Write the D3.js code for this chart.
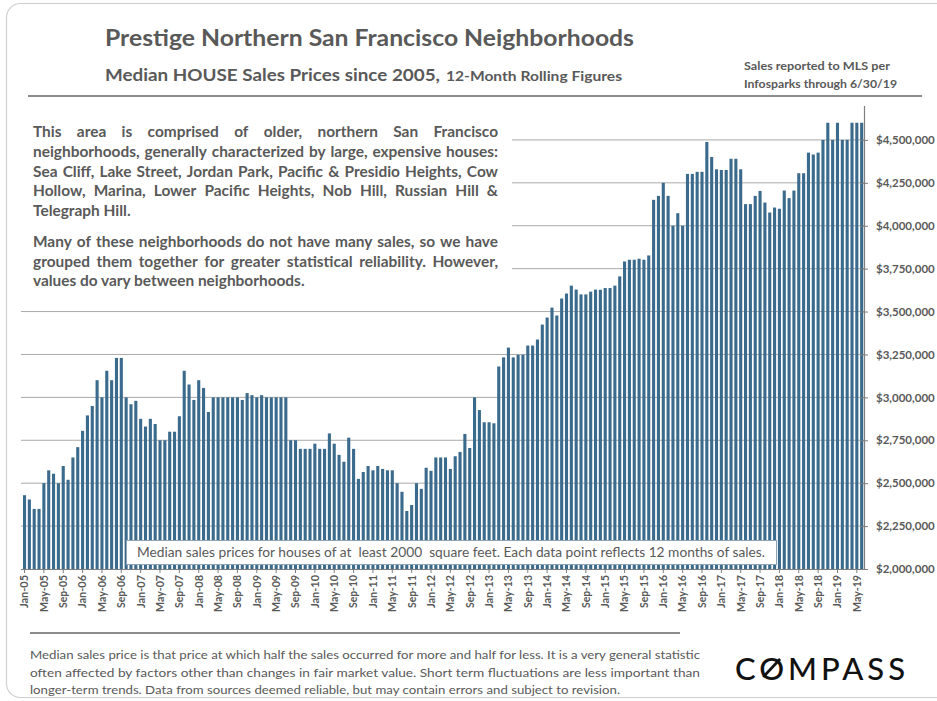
<!DOCTYPE html>
<html><head><meta charset="utf-8">
<script src="https://cdn.jsdelivr.net/npm/d3@7"></script>
<style>
body{margin:0;background:#fff}
svg{display:block}
text{font-family:Lato,'Open Sans',sans-serif}
</style>
</head><body>
<svg id="chart" width="937" height="701"></svg>
<script>
// ---------- DATA ----------
const monthNames = ["Jan","Feb","Mar","Apr","May","Jun","Jul","Aug","Sep","Oct","Nov","Dec"];
const yearLabels = ["05","06","07","08","09","10","11","12","13","14","15","16","17","18","19"];
const categories = [];
yearLabels.forEach(y => monthNames.forEach(m => categories.push(m + "-" + y)));
categories.length = 174; // Jan-05 .. Jun-19

// Median house sale price, 12-month rolling, in $ thousands
const medianPriceK = [
  2430,2405,2350,2350,2500,2575,2555,2500,2600,2520,2650,2710,   // 2005
  2805,2895,2950,3100,3000,3155,3100,3230,3230,3000,2960,2980,   // 2006
  2875,2830,2875,2845,2750,2750,2800,2800,2890,3155,3075,2985,   // 2007
  3100,3055,2915,3000,3000,3000,3000,3000,3000,2985,3025,3013,   // 2008
  3000,3013,3000,3000,3000,3000,3000,2750,2750,2700,2700,2700,   // 2009
  2730,2700,2700,2790,2730,2665,2625,2765,2700,2525,2565,2600,   // 2010
  2575,2600,2583,2575,2575,2500,2450,2338,2373,2500,2467,2590,   // 2011
  2572,2650,2650,2650,2583,2657,2682,2787,2705,3000,2926,2855,   // 2012
  2855,2849,3180,3233,3290,3233,3248,3248,3302,3302,3337,3424,   // 2013
  3465,3523,3477,3576,3605,3651,3628,3600,3600,3616,3628,3627,   // 2014
  3637,3637,3651,3705,3792,3802,3802,3808,3802,3827,4151,4174,   // 2015
  4250,4174,4000,4073,4000,4302,4302,4314,4314,4488,4401,4329,   // 2016
  4325,4325,4390,4390,4329,4126,4126,4174,4203,4135,4077,4106,   // 2017
  4099,4205,4161,4205,4306,4306,4426,4415,4426,4500,4600,4500,   // 2018
  4600,4500,4500,4600,4600,4600                                  // 2019
];

const yTickValues = [2000000,2250000,2500000,2750000,3000000,3250000,3500000,3750000,4000000,4250000,4500000];
const xTickLabels = categories.filter((d, i) => i % 4 === 0);

const titleText = "Prestige Northern San Francisco Neighborhoods";
const subtitleMain = "Median HOUSE Sales Prices since 2005,";
const subtitleSmall = "12-Month Rolling Figures";
const sourceLines = ["Sales reported to MLS per", "Infosparks through 6/30/19"];
const para1 = [
  "This area is comprised of older, northern San Francisco",
  "neighborhoods, generally characterized by large, expensive houses:",
  "Sea Cliff, Lake Street, Jordan Park, Pacific & Presidio Heights, Cow",
  "Hollow, Marina, Lower Pacific Heights, Nob Hill, Russian Hill &",
  "Telegraph Hill."
];
const para2 = [
  "Many of these neighborhoods do not have many sales, so we have",
  "grouped them together for greater statistical reliability. However,",
  "values do vary between neighborhoods."
];
const boxNote = "Median sales prices for houses of at  least 2000  square feet. Each data point reflects 12 months of sales.";
const footLines = [
  "Median sales price is that price at which half the sales occurred for more and half for less. It is a very general statistic",
  "often affected by factors other than changes in fair market value. Short term fluctuations are less important than",
  "longer-term trends. Data from sources deemed reliable, but may contain errors and subject to revision."
];
const brand = "COMPASS";

// ---------- DRAW ----------
const TXT = "#595959";
const BAR = "#3b6b8c";
const svg = d3.select("#chart");

// outer rounded frame
svg.append("rect").attr("x", 6.5).attr("y", 3.5).attr("width", 960).attr("height", 694)
  .attr("rx", 14).attr("fill", "none").attr("stroke", "#cfcfcf").attr("stroke-width", 1.2);

// header
svg.append("text").attr("x", 105).attr("y", 46).attr("font-size", 23).attr("font-weight", 700)
  .attr("fill", TXT).attr("textLength", 529).attr("lengthAdjust", "spacingAndGlyphs").text(titleText);
svg.append("text").attr("x", 105).attr("y", 81).attr("fill", TXT).attr("font-weight", 700)
  .attr("font-size", 17.5).attr("textLength", 335).attr("lengthAdjust", "spacingAndGlyphs").text(subtitleMain);
svg.append("text").attr("x", 446).attr("y", 81).attr("fill", TXT).attr("font-weight", 700)
  .attr("font-size", 12.5).attr("textLength", 176).attr("lengthAdjust", "spacingAndGlyphs").text(subtitleSmall);
const srcLen = [146, 153];
sourceLines.forEach((s, i) => svg.append("text").attr("x", 744).attr("y", 70 + i * 18)
  .attr("font-size", 11.5).attr("font-weight", 700).attr("fill", TXT)
  .attr("textLength", srcLen[i]).attr("lengthAdjust", "spacingAndGlyphs").text(s));
svg.append("line").attr("x1", 28).attr("x2", 922).attr("y1", 96).attr("y2", 96)
  .attr("stroke", "#8c8c8c").attr("stroke-width", 2);

// scales
const x = d3.scaleBand().domain(categories).range([22.1, 864.1]).paddingInner(0.36).paddingOuter(0.18);
const y = d3.scaleLinear().domain([2000000, 4700000]).range([569, 105.6]);

// gridlines
svg.append("g").selectAll("line").data(yTickValues.slice(1)).join("line")
  .attr("x1", 21).attr("x2", 864).attr("y1", d => y(d)).attr("y2", d => y(d))
  .attr("stroke", "#a9a9a9").attr("stroke-width", 1);

// text block background (covers gridlines)
svg.append("rect").attr("x", 20).attr("y", 112).attr("width", 492).attr("height", 184).attr("fill", "#fff");

// bars
svg.append("g").selectAll("rect").data(medianPriceK).join("rect")
  .attr("x", (d, i) => x(categories[i]))
  .attr("width", x.bandwidth())
  .attr("y", d => y(d * 1000))
  .attr("height", d => y(2000000) - y(d * 1000))
  .attr("fill", BAR);

// right y axis
const yAxis = d3.axisRight(y).tickValues(yTickValues).tickSize(0).tickPadding(12)
  .tickFormat(d => "$" + d3.format(",")(d));
const ya = svg.append("g").attr("transform", "translate(864,0)").call(yAxis);
ya.select(".domain").attr("stroke", "#7f7f7f").attr("stroke-width", 1.2);
ya.selectAll("text").attr("font-size", 11.5).attr("font-weight", 700).attr("fill", TXT)
  .attr("font-family", "Lato, 'Open Sans', sans-serif");
ya.selectAll(".tick").append("line").attr("x1", -4).attr("x2", 4).attr("stroke", "#7f7f7f");

// bottom x axis
const xAxis = d3.axisBottom(x).tickValues(xTickLabels).tickSize(4).tickPadding(5);
const xa = svg.append("g").attr("transform", "translate(0,569)").call(xAxis);
xa.select(".domain").attr("stroke", "#7f7f7f").attr("d", "M21,0.5H864");
xa.selectAll(".tick line").attr("stroke", "#7f7f7f");
xa.selectAll("text").attr("font-size", 11).attr("font-weight", 700).attr("fill", TXT)
  .attr("font-family", "Lato, 'Open Sans', sans-serif")
  .attr("transform", "rotate(-90)").attr("text-anchor", "end")
  .attr("x", -6).attr("y", 0).attr("dy", "0.35em")
  .attr("textLength", d => d.startsWith("May") ? 37 : 33).attr("lengthAdjust", "spacingAndGlyphs");

// annotation box over bars
svg.append("rect").attr("x", 126.5).attr("y", 540.5).attr("width", 650).attr("height", 24)
  .attr("fill", "#fff").attr("stroke", "#8fa5b6").attr("stroke-width", 1);
svg.append("text").attr("x", 451).attr("y", 557).attr("text-anchor", "middle")
  .attr("font-size", 13.5).attr("fill", TXT).attr("xml:space", "preserve")
  .attr("textLength", 628).attr("lengthAdjust", "spacingAndGlyphs").text(boxNote);

// justified paragraph: font size fitted so the longest line reads at natural spacing
function measure(str, fs) {
  const t = svg.append("text").attr("font-size", fs).attr("font-weight", 700).text(str);
  const w = t.node().getComputedTextLength();
  t.remove();
  return w;
}
const paraFs = 10 * 458 / measure(para1[1], 10);
const spaceW = measure("a a", paraFs) - measure("aa", paraFs);
function paragraph(lines, y0, lh) {
  const x0 = 33, x1 = 498;
  lines.forEach((ln, li) => {
    const t = svg.append("text").attr("y", y0 + li * lh).attr("font-size", paraFs)
      .attr("font-weight", 700).attr("fill", TXT);
    const words = ln.split(" ");
    if (li === lines.length - 1) { t.attr("x", x0).text(ln); return; }
    const widths = words.map(w => measure(w, paraFs));
    const gap = Math.max(spaceW * 0.6, (x1 - x0 - d3.sum(widths)) / (words.length - 1));
    let cx = x0;
    words.forEach((w, i) => {
      t.append("tspan").attr("x", cx).text(w + (i < words.length - 1 ? " " : ""));
      cx += widths[i] + gap;
    });
  });
}
paragraph(para1, 137, 19.8);
paragraph(para2, 247, 19.5);

// bottom rule and footnote
svg.append("line").attr("x1", 30).attr("x2", 680).attr("y1", 633).attr("y2", 633)
  .attr("stroke", "#8c8c8c").attr("stroke-width", 2);
const footLen = [670, 670, 590];
footLines.forEach((s, i) => svg.append("text").attr("x", 30).attr("y", 659 + i * 17.5)
  .attr("font-size", 12).attr("fill", TXT).attr("textLength", footLen[i])
  .attr("lengthAdjust", "spacingAndGlyphs").text(s));

// brand
const b = svg.append("text").attr("x", 735).attr("y", 680).attr("font-size", 31)
  .attr("font-family", "Roboto, Lato, sans-serif").attr("font-weight", 500)
  .attr("fill", "#111").attr("textLength", 170).attr("lengthAdjust", "spacing").text(brand);
// slash through the O of the logo
const bn = b.node();
const o0 = bn.getStartPositionOfChar(1), o1 = bn.getEndPositionOfChar(1);
svg.append("line").attr("x1", o0.x + 4).attr("x2", o1.x - 4).attr("y1", 677).attr("y2", 659)
  .attr("stroke", "#111").attr("stroke-width", 2.6);
</script>
</body></html>
